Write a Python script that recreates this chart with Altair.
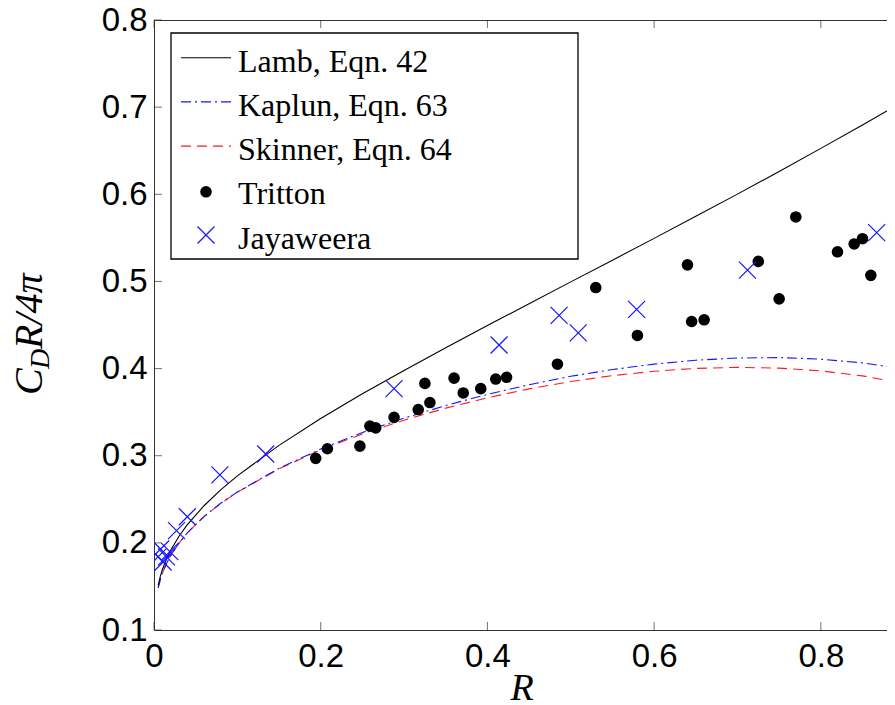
import altair as alt
import pandas as pd

# ---------------- data ----------------
curve_R = [0.005, 0.0075, 0.01, 0.015, 0.02, 0.03, 0.04, 0.06, 0.08, 0.10, 0.15, 0.20,
           0.25, 0.30, 0.35, 0.40, 0.45, 0.50, 0.55, 0.60, 0.65, 0.70, 0.75, 0.80,
           0.85, 0.90]
lamb_y = [0.1513, 0.1612, 0.1691, 0.1815, 0.1915, 0.2076, 0.2209, 0.2426, 0.2608, 0.2769,
          0.3119, 0.3427, 0.3710, 0.3979, 0.4239, 0.4494, 0.4744, 0.4995, 0.5244, 0.5494,
          0.5747, 0.6002, 0.6262, 0.6527, 0.6795, 0.7071]
kaplun_y = [0.1483, 0.1576, 0.1649, 0.1763, 0.1854, 0.1998, 0.2115, 0.2302, 0.2454, 0.2584,
            0.2855, 0.3077, 0.3266, 0.3431, 0.3576, 0.3704, 0.3815, 0.3911, 0.3989, 0.4051,
            0.4096, 0.4121, 0.4126, 0.4108, 0.4065, 0.3995]
skinner_y = [0.1483, 0.1576, 0.1649, 0.1763, 0.1854, 0.1998, 0.2114, 0.2301, 0.2452, 0.2581,
             0.2849, 0.3067, 0.3250, 0.3408, 0.3546, 0.3665, 0.3767, 0.3852, 0.3919, 0.3969,
             0.4002, 0.4014, 0.4005, 0.3973, 0.3916, 0.3831]

tritton_R = [0.194, 0.208, 0.247, 0.259, 0.266, 0.288, 0.317, 0.325, 0.331, 0.360, 0.371,
             0.392, 0.410, 0.423, 0.484, 0.530, 0.580, 0.640, 0.645, 0.660, 0.725, 0.750,
             0.770, 0.820, 0.840, 0.850, 0.860]
tritton_y = [0.297, 0.308, 0.311, 0.334, 0.332, 0.344, 0.353, 0.383, 0.361, 0.389, 0.372,
             0.377, 0.388, 0.390, 0.405, 0.493, 0.438, 0.519, 0.454, 0.456, 0.523, 0.480,
             0.574, 0.534, 0.543, 0.549, 0.507]

jaya_R = [0.005, 0.008, 0.011, 0.015, 0.019, 0.027, 0.040, 0.079, 0.134, 0.288, 0.414,
          0.486, 0.509, 0.579, 0.712, 0.867]
jaya_y = [0.184, 0.193, 0.178, 0.184, 0.190, 0.214, 0.230, 0.278, 0.302, 0.377, 0.427,
          0.461, 0.441, 0.468, 0.513, 0.556]

x_ticks = [0, 0.2, 0.4, 0.6, 0.8]
y_ticks = [0.1, 0.2, 0.3, 0.4, 0.5, 0.6, 0.7, 0.8]

legend_labels = ["Lamb, Eqn. 42", "Kaplun, Eqn. 63", "Skinner, Eqn. 64", "Tritton", "Jayaweera"]

# ---------------- chart ----------------
W, H = 733, 610
AX = "#333333"
BLUE = "#1414ff"
RED = "#ff1a1a"
CROSS = "M-1,-1L1,1M1,-1L-1,1"

xs = alt.Scale(domain=[0, 0.8794], nice=False, zero=False)
ys = alt.Scale(domain=[0.1, 0.8], nice=False, zero=False)

x_axis = alt.Axis(values=x_ticks, format="~g", tickSize=0, labelFont="Liberation Sans",
                  labelFontSize=33, labelColor="black", labelPadding=10, labelFlush=False,
                  labelOverlap=False, domainColor=AX, domainWidth=1, grid=False, title=None)
y_axis = alt.Axis(values=y_ticks, format=".1f", tickSize=0, labelFont="Liberation Sans",
                  labelFontSize=33, labelColor="black", labelPadding=7, labelFlush=False,
                  labelOverlap=False, domainColor=AX, domainWidth=1, grid=False, title=None)

curves = pd.DataFrame({"R": curve_R, "lamb": lamb_y, "kaplun": kaplun_y, "skinner": skinner_y})
tdf = pd.DataFrame({"R": tritton_R, "y": tritton_y})
jdf = pd.DataFrame({"R": jaya_R, "y": jaya_y})
one = pd.DataFrame({"a": [0]})

X = alt.X("R:Q", scale=xs, axis=x_axis)

skinner = alt.Chart(curves).mark_line(color=RED, strokeWidth=1.1, strokeDash=[10, 6], clip=True).encode(
    x=X, y=alt.Y("skinner:Q", scale=ys, axis=y_axis))
kaplun = alt.Chart(curves).mark_line(color=BLUE, strokeWidth=1.1, strokeDash=[10, 4, 2, 4], clip=True).encode(
    x=X, y=alt.Y("kaplun:Q", scale=ys, axis=y_axis))
lamb = alt.Chart(curves).mark_line(color="black", strokeWidth=1.1, clip=True).encode(
    x=X, y=alt.Y("lamb:Q", scale=ys, axis=y_axis))

tritton = alt.Chart(tdf).mark_point(shape="circle", filled=True, size=135, color="black",
                                    opacity=1, clip=True).encode(
    x=X, y=alt.Y("y:Q", scale=ys, axis=y_axis))
jaya = alt.Chart(jdf).mark_point(shape=CROSS, filled=False, size=289, color=BLUE, strokeWidth=1.2,
                                 opacity=1, clip=True).encode(
    x=X, y=alt.Y("y:Q", scale=ys, axis=y_axis))

# inward ticks (MATLAB style)
ytk = pd.DataFrame({"v": y_ticks})
xtk = pd.DataFrame({"v": x_ticks})
ytick_marks = alt.Chart(ytk).mark_tick(orient="horizontal", size=8, thickness=1, color=AX).encode(
    y=alt.Y("v:Q", scale=ys, axis=y_axis), x=alt.value(4))
xtick_marks = alt.Chart(xtk).mark_tick(orient="vertical", size=8, thickness=1, color=AX).encode(
    x=alt.X("v:Q", scale=xs, axis=x_axis), y=alt.value(H - 4))
xtick_top = alt.Chart(xtk).mark_tick(orient="vertical", size=8, thickness=1, color=AX).encode(
    x=alt.X("v:Q", scale=xs, axis=x_axis), y=alt.value(4))
top_border = alt.Chart(one).mark_rule(color=AX, strokeWidth=1).encode(
    x=alt.value(0), x2=alt.value(W), y=alt.value(0.5))

# legend box
box = alt.Chart(one).mark_rect(fill="white", stroke="black", strokeWidth=1.3).encode(
    x=alt.value(17), x2=alt.value(424), y=alt.value(13), y2=alt.value(239))
base0, step = 51.7, 44.2
leg = [box]
styles = [("black", None), (BLUE, [10, 4, 2, 4]), (RED, [10, 6])]
for i, (col, dash) in enumerate(styles):
    yy = base0 + step * i - 14
    kw = dict(color=col, strokeWidth=1.1)
    if dash:
        kw["strokeDash"] = dash
    leg.append(alt.Chart(one).mark_rule(**kw).encode(
        x=alt.value(27), x2=alt.value(77), y=alt.value(yy)))
leg.append(alt.Chart(one).mark_point(shape="circle", filled=True, size=135, color="black", opacity=1).encode(
    x=alt.value(52), y=alt.value(base0 + step * 3 - 12.5)))
leg.append(alt.Chart(one).mark_point(shape=CROSS, filled=False, size=289, color=BLUE, strokeWidth=1.2,
                                     opacity=1).encode(
    x=alt.value(52), y=alt.value(base0 + step * 4 - 13.5)))
for i, lab in enumerate(legend_labels):
    leg.append(alt.Chart(one).mark_text(align="left", baseline="alphabetic", font="Liberation Serif",
                                        fontSize=32, color="black").encode(
        x=alt.value(84), y=alt.value(base0 + step * i), text=alt.value(lab)))

# axis titles
xtitle = alt.Chart(one).mark_text(align="center", baseline="alphabetic", font="Liberation Serif",
                                  fontStyle="italic", fontSize=38, color="black").encode(
    x=alt.value(368), y=alt.value(680), text=alt.value("R"))
ytitle_C = alt.Chart(one).mark_text(align="left", baseline="alphabetic", angle=270, font="Liberation Serif",
                                    fontStyle="italic", fontSize=40, color="black").encode(
    x=alt.value(-112), y=alt.value(375), text=alt.value("C"))
ytitle_D = alt.Chart(one).mark_text(align="left", baseline="alphabetic", angle=270, font="Liberation Serif",
                                    fontStyle="italic", fontSize=28, color="black").encode(
    x=alt.value(-105), y=alt.value(349), text=alt.value("D"))
ytitle_R = alt.Chart(one).mark_text(align="left", baseline="alphabetic", angle=270, font="Liberation Serif",
                                    fontStyle="italic", fontSize=40, color="black").encode(
    x=alt.value(-112), y=alt.value(329), text=alt.value("R/4π"))

chart = alt.layer(
    skinner, kaplun, lamb, tritton, jaya,
    ytick_marks, xtick_marks, xtick_top, top_border,
    *leg, xtitle, ytitle_C, ytitle_D, ytitle_R
).properties(
    width=W, height=H,
    autosize=alt.AutoSizeParams(type="none"),
    padding={"left": 146, "top": 12, "right": 0, "bottom": 73},
).configure_view(stroke=None)

chart.save("out.html", embed_options={"renderer": "svg", "actions": False})
